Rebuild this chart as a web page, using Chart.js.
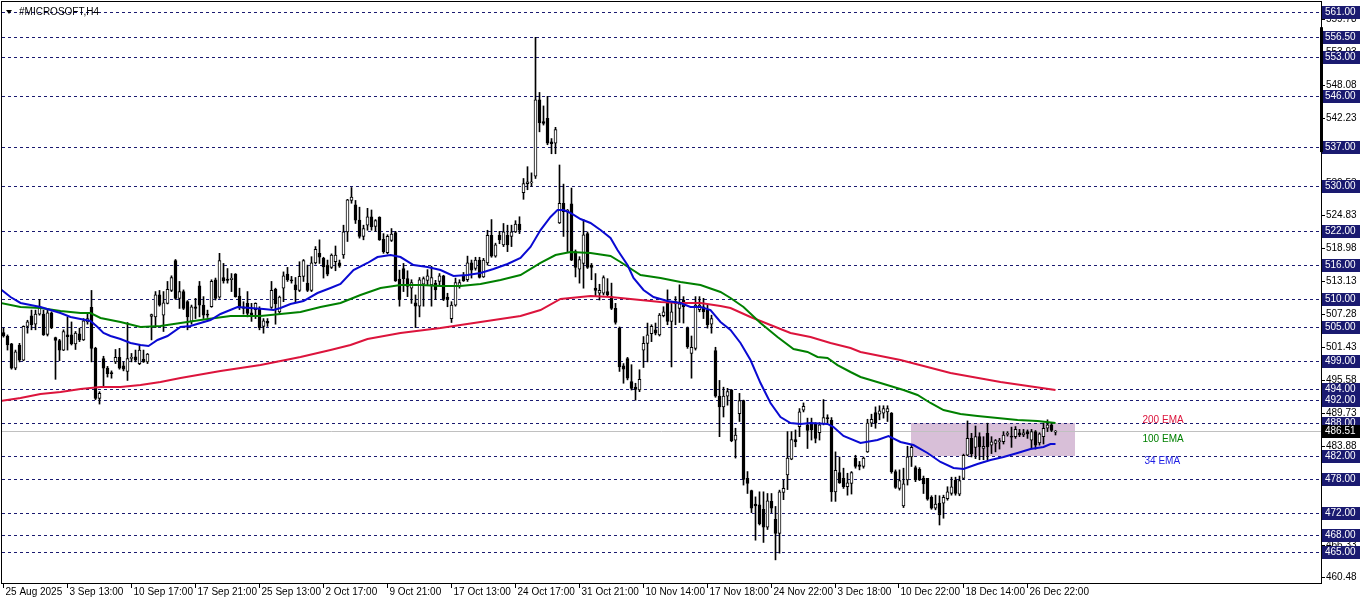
<!DOCTYPE html>
<html>
<head>
<meta charset="utf-8">
<title>#MICROSOFT,H4</title>
<script src="https://cdn.jsdelivr.net/npm/chart.js@4.4.1/dist/chart.umd.min.js"></script>
<style>
  html, body { margin: 0; padding: 0; background: #fff; }
  canvas { display: block; }
</style>
</head>
<body>
<canvas id="chart" width="1362" height="603"></canvas>
<script>
// H4 candles, one per bar index (0 = 25 Aug 2025)
const opens = [
  504.0,503.4,502.0,497.7,501.8,499.1,505.1,507.0,505.5,507.3,
  507.3,503.7,507.5,503.1,502.6,500.9,503.6,503.6,502.0,503.8,
  502.7,505.9,508.5,501.2,492.3,499.4,497.7,496.9,498.8,499.6,
  498.1,497.1,499.4,499.7,498.5,499.3,498.8,506.9,506.8,510.7,
  507.1,509.2,511.5,516.8,510.1,511.3,509.5,506.0,508.6,512.3,
  508.9,507.3,508.6,513.4,510.3,513.8,513.5,513.4,514.4,510.5,
  508.6,509.2,507.5,508.1,508.3,505.1,506.0,508.5,511.7,507.7,
  511.9,514.4,513.4,512.5,511.5,514.0,512.8,511.5,516.4,518.1,
  517.2,516.0,515.6,516.6,516.4,517.8,521.9,527.5,526.7,524.0,
  521.1,523.1,524.6,522.9,524.5,520.6,518.2,520.4,521.8,513.5,
  515.4,513.6,511.9,509.3,508.7,512.6,513.3,512.5,512.8,513.1,
  514.1,510.3,506.5,508.9,512.2,514.1,513.4,516.4,515.4,516.9,
  513.9,516.4,521.3,517.6,521.3,519.6,521.3,521.1,521.9,523.3,
  528.9,530.5,530.6,531.8,545.4,541.5,542.1,537.9,537.7,523.5,
  527.0,525.5,526.9,518.4,515.3,516.3,521.6,516.0,511.9,511.0,
  511.0,511.3,510.4,508.3,504.8,498.1,499.4,495.3,494.3,493.8,
  500.9,502.1,503.8,504.5,503.6,507.0,509.2,506.0,509.1,508.3,
  509.8,504.8,500.3,501.2,508.1,508.6,508.0,505.5,500.8,492.7,
  490.8,492.7,493.8,484.9,489.6,491.9,478.1,475.9,473.5,473.4,
  472.6,469.4,474.0,470.8,468.3,475.6,478.7,481.5,485.0,487.3,
  490.2,487.6,487.9,487.8,486.2,487.8,488.9,488.4,475.7,479.1,
  478.1,476.6,477.2,481.7,480.5,480.2,482.8,487.9,489.8,489.5,
  489.7,489.9,489.7,479.3,476.3,473.2,477.8,481.9,480.0,479.7,
  478.1,478.1,474.7,472.8,473.7,473.7,474.5,475.4,477.8,475.3,
  478.1,482.2,485.2,483.6,485.5,483.4,486.1,484.0,484.3,484.6,
  484.6,485.9,485.6,485.5,486.2,485.8,486.4,484.9,486.4,484.4,
  485.5,487.0,487.6,486.3
];
const highs = [
  504.8,503.6,502.1,500.9,502.1,505.2,506.2,508.0,508.0,509.9,
  508.0,508.0,507.7,503.2,502.8,504.5,506.8,505.9,504.2,504.8,
  506.5,507.5,511.5,501.4,493.5,499.8,498.0,497.2,501.0,501.2,
  498.8,505.8,500.3,500.9,501.8,500.9,500.3,507.3,511.3,511.5,
  511.3,513.1,514.1,517.0,513.1,511.6,509.7,508.9,510.1,513.1,
  510.4,508.0,513.4,513.7,518.1,516.3,515.4,514.5,514.5,511.9,
  509.5,511.3,509.2,509.3,508.6,506.5,506.5,513.1,511.9,510.5,
  514.8,515.6,514.0,513.8,516.6,517.0,516.0,517.5,519.3,520.5,
  517.4,516.9,518.0,519.4,516.9,523.1,527.7,529.8,527.5,526.3,
  523.1,526.1,525.8,524.1,524.6,521.6,521.4,522.5,522.0,515.1,
  516.3,515.0,513.4,510.7,513.8,513.9,515.2,515.8,513.3,514.5,
  514.2,511.0,509.5,513.7,513.4,514.7,517.6,516.9,517.4,517.4,
  517.2,522.2,524.1,519.9,522.0,523.4,523.1,523.1,523.9,524.6,
  531.4,533.5,532.4,556.5,546.7,544.3,546.0,538.5,540.5,533.8,
  530.4,525.9,529.7,518.7,517.5,524.1,521.9,516.3,514.5,512.6,
  514.1,513.6,512.8,509.2,505.0,498.5,499.6,498.3,495.0,497.4,
  503.3,505.7,505.4,505.7,507.4,508.6,511.6,509.5,510.4,512.5,
  510.4,505.0,503.4,510.4,510.4,510.1,508.9,507.1,501.4,495.5,
  494.3,494.1,493.9,487.0,493.2,492.0,479.3,476.0,474.8,475.7,
  475.7,475.4,475.4,473.1,476.0,477.8,486.4,486.4,486.7,490.5,
  491.5,488.8,488.8,488.0,488.0,492.1,489.4,488.9,482.8,481.9,
  479.9,479.0,479.3,482.2,481.1,481.9,488.6,489.5,490.8,491.0,
  491.0,491.0,489.8,479.6,479.6,479.9,483.8,484.0,480.3,480.0,
  478.5,478.1,475.0,475.1,475.0,475.1,476.6,478.3,478.3,478.5,
  482.4,488.3,486.1,487.4,486.2,485.5,487.9,485.5,485.0,485.2,
  486.4,486.4,487.2,487.3,486.8,486.8,486.7,486.8,486.6,486.2,
  487.9,488.5,487.9,486.6
];
const lows = [
  503.2,500.9,497.5,497.4,498.8,499.0,503.9,504.5,504.5,507.1,
  503.5,503.4,504.7,495.7,499.0,500.8,500.9,501.8,501.0,502.4,
  502.6,505.5,498.8,492.1,491.3,494.4,496.1,495.9,498.5,497.5,
  497.2,495.5,498.8,498.8,498.3,498.7,498.5,502.7,504.9,508.7,
  504.2,509.1,511.3,509.9,508.3,508.1,504.5,505.5,506.5,506.8,
  506.5,506.7,508.5,509.8,510.1,512.8,512.8,511.3,510.3,508.1,
  507.3,506.8,506.0,506.5,504.5,503.9,505.1,508.3,505.5,507.4,
  509.5,513.1,512.8,509.5,511.3,513.1,511.3,511.3,516.2,516.3,
  513.7,514.1,515.4,515.0,515.6,517.2,520.2,527.0,523.4,520.8,
  520.5,522.2,522.2,522.0,520.4,518.1,518.0,520.2,513.1,508.7,
  511.3,510.4,509.2,504.9,506.8,508.7,512.5,508.7,509.9,512.5,
  509.7,508.6,505.8,508.7,511.9,513.1,513.1,513.7,515.1,513.7,
  513.8,516.0,517.4,517.4,519.8,519.3,518.4,519.3,521.8,521.6,
  527.7,529.4,530.0,531.4,539.7,540.9,537.4,535.8,535.8,523.4,
  521.1,518.4,516.8,513.9,512.8,511.9,515.4,513.4,510.4,509.8,
  510.7,510.4,508.1,505.5,497.1,495.0,495.6,493.8,492.0,493.5,
  497.8,498.8,502.4,503.6,503.4,506.8,505.4,497.9,505.4,505.8,
  505.7,501.2,495.9,500.9,507.7,506.5,504.8,503.9,492.5,485.5,
  489.0,491.1,484.6,481.7,488.2,476.9,475.4,472.0,467.1,469.8,
  466.7,469.0,472.0,463.6,464.8,474.3,476.1,481.4,483.7,485.5,
  489.9,483.4,484.9,484.4,484.9,487.6,487.9,474.0,474.0,477.2,
  476.3,475.1,475.3,479.9,479.6,479.9,482.7,487.3,487.0,488.5,
  488.8,488.2,479.0,476.3,476.0,472.9,476.9,480.2,477.5,477.7,
  475.4,474.2,472.6,472.5,469.8,471.0,474.2,475.1,475.1,475.0,
  477.9,482.1,481.9,481.6,481.4,481.4,481.4,482.5,482.8,483.3,
  484.2,485.6,483.6,485.2,485.5,485.5,485.2,483.4,483.3,484.0,
  484.2,486.4,486.4,485.8
];
const closes = [
  503.4,501.8,497.7,500.6,499.1,505.1,505.9,505.4,507.3,508.7,
  503.6,507.5,504.9,502.6,500.9,504.2,503.3,502.0,503.9,502.7,
  506.1,506.5,501.2,492.3,493.2,497.7,496.7,496.7,499.6,497.7,
  497.5,499.4,499.6,499.1,500.9,498.8,500.2,507.2,510.7,508.9,
  509.3,511.7,513.8,510.1,511.3,508.3,506.8,508.6,508.3,508.9,
  507.1,507.1,513.1,510.1,516.8,513.2,513.3,513.7,510.4,508.5,
  508.3,507.4,507.1,509.2,504.9,506.1,505.7,511.5,509.1,510.3,
  514.1,513.4,513.2,511.6,514.0,516.8,511.5,516.4,518.8,517.4,
  515.7,514.4,517.8,517.8,515.8,521.9,527.6,528.1,524.0,521.1,
  522.5,524.6,522.8,523.9,520.5,518.4,521.1,521.5,513.2,509.9,
  513.6,512.2,512.9,508.7,513.4,513.6,514.1,513.8,511.6,514.1,
  509.9,509.9,508.9,512.9,512.9,513.2,516.4,515.1,516.9,513.8,
  516.9,521.3,517.6,519.6,520.5,521.9,519.6,521.9,523.3,522.2,
  530.5,530.8,530.8,545.4,541.3,541.2,537.7,537.6,540.1,527.0,
  525.5,525.8,516.9,515.6,517.0,521.4,515.6,515.6,511.5,511.5,
  513.8,510.7,508.3,505.8,497.9,497.5,495.9,494.1,493.9,495.7,
  502.1,503.6,505.1,503.9,507.1,507.7,506.0,507.7,509.5,509.1,
  508.6,501.5,501.4,508.9,508.9,507.7,505.4,506.5,492.7,490.8,
  492.7,493.5,484.8,485.8,491.9,477.9,477.2,472.8,473.2,470.0,
  469.4,474.1,472.8,468.3,475.7,476.3,481.7,485.0,484.6,489.9,
  490.9,486.6,486.7,485.2,487.6,488.9,488.7,475.7,479.5,477.3,
  476.6,477.3,479.1,480.2,480.2,481.7,487.9,488.6,487.9,490.1,
  490.5,490.5,479.3,476.5,477.7,477.1,481.9,483.6,477.8,477.8,
  477.1,474.4,472.8,473.5,471.6,474.7,475.7,476.6,475.4,477.7,
  482.2,485.2,482.5,485.5,483.7,483.8,483.7,484.6,484.8,484.8,
  485.8,486.1,485.4,486.8,485.8,486.2,486.0,486.4,484.0,486.0,
  487.0,487.6,486.6,486.5
];

// moving averages: [bar index, price]
const ema34 = [[-0.75,511.76],[1.75,510.33],[4.25,509.27],[6.75,508.91],[9.25,508.56],[11.75,508.02],[14.25,507.49],[16.75,506.78],[19.25,506.42],[21.75,506.07],[23.5,505.0],[25,503.93],[26.75,503.4],[29.25,502.87],[31.75,502.16],[34.25,501.8],[36.25,501.62],[38.5,502.69],[41,503.4],[44.25,505.0],[46.75,505.18],[51.75,506.24],[54.25,507.31],[58.5,508.56],[61.75,508.38],[65,508.2],[67.5,508.02],[69.25,508.38],[71.75,509.09],[75,509.62],[78.5,511.04],[81.75,511.93],[84.25,512.64],[87.5,515.13],[91,516.38],[93.5,517.44],[96.75,517.8],[99.25,517.44],[102.5,516.02],[106,515.67],[109.25,515.13],[112.5,514.07],[116,514.24],[119.25,514.6],[122.5,515.31],[126,516.2],[129.25,517.27],[131.75,519.22],[134.25,522.24],[136.75,524.56],[138.5,525.8],[140,525.8],[141.75,525.27],[144.25,524.2],[146.75,523.49],[149.25,522.24],[151.75,520.82],[153.5,518.69],[156,516.02],[157.5,513.71],[160,511.58],[162.5,510.33],[166,509.62],[169.25,509.27],[171.75,508.56],[174.25,508.56],[176.75,508.02],[179.25,505.89],[181.75,504.47],[184.25,502.16],[186.75,499.13],[189.25,495.04],[191.75,491.49],[194.25,489.0],[196.75,487.93],[199.25,487.76],[201.75,487.93],[206,487.76],[207.5,487.22],[210,485.62],[214.25,484.38],[218.5,484.91],[221.25,485.62],[224.25,484.56],[227.5,484.02],[231,482.6],[234.25,481.0],[237.5,479.93],[240,479.76],[243.5,480.64],[246.75,481.36],[250,481.89],[253.5,482.6],[256.75,483.31],[260,483.67],[261.75,484.2],[263,484.2]];
const ema100 = [[-0.75,509.27],[4.25,508.56],[9.25,508.38],[14.25,507.84],[19.25,507.49],[21.75,507.49],[24.25,506.6],[29.25,505.89],[34.25,505.0],[39.25,505.18],[44.25,505.71],[49.25,506.24],[56.75,506.96],[64.25,506.96],[69.25,507.31],[74.25,507.67],[79.25,508.56],[84.25,509.27],[89.25,510.69],[94.25,511.93],[99.25,512.47],[104.25,512.47],[109.25,512.29],[114.25,512.29],[119.25,512.64],[124.25,513.36],[129.25,514.24],[134.25,516.38],[138,517.8],[141.75,518.33],[146.75,518.16],[151.75,517.62],[154.25,516.56],[159.25,514.24],[164.25,513.71],[169.25,513.0],[174.25,512.47],[179.25,511.22],[181.75,510.16],[185,508.56],[189.25,505.71],[193.5,503.22],[197.5,501.09],[201,500.56],[203.5,499.67],[206,499.49],[208.5,498.24],[211.75,497.0],[214.25,496.11],[219.25,495.04],[225,493.8],[228.5,492.91],[231.75,491.49],[235,490.24],[239.25,489.53],[243.5,489.18],[248.5,488.82],[253.5,488.47],[258.5,488.29],[263,487.93]];
const ema200 = [[-0.75,491.84],[4.25,492.38],[9.25,493.09],[14.25,493.44],[19.25,493.98],[24.25,494.33],[29.25,494.33],[34.25,494.69],[39.25,495.22],[44.25,495.93],[54.25,497.18],[64.25,498.24],[74.25,499.67],[81.75,500.91],[86.75,501.8],[91,502.87],[99.25,503.93],[109.25,504.82],[119.25,505.89],[129.25,506.96],[134.25,508.02],[139.25,509.98],[146.75,510.51],[151.75,510.33],[159.25,509.8],[164.25,509.44],[169.25,509.27],[174.25,509.27],[179.25,508.73],[181.75,508.38],[186.75,506.78],[191.75,505.36],[196.75,503.93],[201.75,503.22],[206.75,502.16],[211.75,501.27],[214.25,500.56],[224.25,499.13],[236.75,496.82],[249.25,495.22],[263,493.8]];

// horizontal levels, price scale and time scale
const levels = [561, 556.5, 553, 546, 537, 530, 522, 516, 510, 505, 499, 494, 492, 488, 482, 478, 472, 468, 465];
const lastPrice = 486.51;
const priceTicks = [559.78, 553.93, 548.08, 542.23, 536.38, 530.53, 524.83, 518.98, 513.13, 507.28, 501.43, 495.58, 489.73, 483.88, 478.03, 472.18, 466.33, 460.48];
const timeLabels = ['25 Aug 2025', '3 Sep 13:00', '10 Sep 17:00', '17 Sep 21:00', '25 Sep 13:00', '2 Oct 17:00', '9 Oct 21:00', '17 Oct 13:00', '24 Oct 17:00', '31 Oct 21:00', '10 Nov 14:00', '17 Nov 18:00', '24 Nov 22:00', '3 Dec 18:00', '10 Dec 22:00', '18 Dec 14:00', '26 Dec 22:00'];
const timeLabelBars = [0, 16, 32, 48, 64, 80, 96, 112, 128, 144, 160, 176, 192, 208, 224, 240, 256];

// drawn objects on the chart
const zone = { from: 227, to: 268, low: 482, high: 488 };
const noteTexts = ['200 EMA', '100 EMA', '34 EMA'];
const notePrices = [488.5, 485.1, 481.2];
const noteBars = [284.75, 284.75, 285.25];
const sideBar = { top: 558.3, bottom: 536.1 };

const noteColors = ['#dc143c', '#008000', '#1e1ee6'];
const levelColor = '#1a1a70';
const FONT = '10px "Liberation Sans", Arial, sans-serif';

const bodies = opens.map((o, i) => ({ x: i, y: [o, closes[i]] }));
const bodyColors = opens.map((o, i) => (closes[i] >= o ? '#ffffff' : '#000000'));
const wicks = lows.map((l, i) => ({ x: i, y: [l, highs[i]] }));
const toXY = arr => arr.map(p => ({ x: p[0], y: p[1] }));

const overlay = {
  id: 'overlay',
  beforeDatasetsDraw(chart) {
    const { ctx, chartArea: a, scales: { x, y } } = chart;
    ctx.save();
    // rectangle zone
    const zx1 = Math.floor(x.getPixelForValue(zone.from));
    const zx2 = Math.floor(x.getPixelForValue(zone.to));
    const zy1 = Math.round(y.getPixelForValue(zone.high));
    const zy2 = Math.round(y.getPixelForValue(zone.low));
    ctx.fillStyle = '#d8bfd8';
    ctx.fillRect(zx1, zy1, zx2 - zx1, zy2 - zy1);
    // dashed levels
    ctx.strokeStyle = levelColor;
    ctx.lineWidth = 1;
    ctx.setLineDash([3, 3]);
    levels.forEach(v => {
      const py = Math.round(y.getPixelForValue(v)) + 0.5;
      ctx.beginPath();
      ctx.moveTo(a.left, py);
      ctx.lineTo(a.right, py);
      ctx.stroke();
    });
    ctx.setLineDash([]);
    // bid line
    const by = Math.round(y.getPixelForValue(lastPrice)) + 0.5;
    ctx.strokeStyle = '#c0c0c0';
    ctx.beginPath();
    ctx.moveTo(a.left, by);
    ctx.lineTo(a.right, by);
    ctx.stroke();
    ctx.restore();
  },
  afterDraw(chart) {
    const { ctx, chartArea: a, scales: { x, y } } = chart;
    ctx.save();
    ctx.font = FONT;
    ctx.textBaseline = 'middle';

    // ema notes
    noteTexts.forEach((t, i) => {
      ctx.fillStyle = noteColors[i];
      ctx.fillText(t, x.getPixelForValue(noteBars[i]), y.getPixelForValue(notePrices[i]));
    });

    // frame
    ctx.strokeStyle = '#000';
    ctx.lineWidth = 1;
    ctx.strokeRect(a.left - 0.5, a.top - 0.5, a.right - a.left + 1, a.bottom - a.top + 1);

    // price scale ticks
    ctx.fillStyle = '#000';
    priceTicks.forEach(v => {
      const py = Math.round(y.getPixelForValue(v)) + 0.5;
      ctx.beginPath();
      ctx.moveTo(a.right + 1, py);
      ctx.lineTo(a.right + 4, py);
      ctx.stroke();
      ctx.fillText(v.toFixed(2), a.right + 5, py);
    });

    // level boxes
    const box = (v, color) => {
      const py = Math.round(y.getPixelForValue(v));
      ctx.fillStyle = color;
      ctx.fillRect(a.right + 1, py - 6, 38, 13);
      ctx.fillStyle = '#fff';
      ctx.fillText(v.toFixed(2), a.right + 4, py + 0.5);
    };
    levels.forEach(v => box(v, levelColor));
    box(lastPrice, '#000');

    // thick bar on the scale edge
    const sy1 = y.getPixelForValue(sideBar.top), sy2 = y.getPixelForValue(sideBar.bottom);
    ctx.fillStyle = '#000';
    ctx.fillRect(a.right - 1, sy1, 3, sy2 - sy1);

    // time scale
    timeLabels.forEach((t, i) => {
      const px = Math.round(x.getPixelForValue(timeLabelBars[i])) - 0.5;
      ctx.beginPath();
      ctx.moveTo(px, a.bottom + 1);
      ctx.lineTo(px, a.bottom + 5);
      ctx.stroke();
      ctx.fillStyle = '#000';
      ctx.fillText(t, px + 2, a.bottom + 9);
    });

    // title
    ctx.beginPath();
    ctx.moveTo(6, 10);
    ctx.lineTo(12, 10);
    ctx.lineTo(9, 14);
    ctx.closePath();
    ctx.fill();
    ctx.fillText('#MICROSOFT,H4', 19, 12);
    ctx.restore();
  }
};

new Chart(document.getElementById('chart'), {
  type: 'bar',
  data: {
    datasets: [
      { type: 'line', label: '34 EMA', data: toXY(ema34), borderColor: '#0a0ad2', borderWidth: 2, pointRadius: 0, order: 0 },
      { type: 'line', label: '100 EMA', data: toXY(ema100), borderColor: '#008000', borderWidth: 2, pointRadius: 0, order: 1 },
      { type: 'line', label: '200 EMA', data: toXY(ema200), borderColor: '#dc143c', borderWidth: 2, pointRadius: 0, order: 2 },
      {
        label: 'bodies', data: bodies, backgroundColor: bodyColors, borderColor: '#000000',
        borderWidth: 1, borderSkipped: false, barThickness: 3, minBarLength: 1, grouped: false, order: 5
      },
      { label: 'wicks', data: wicks, backgroundColor: '#000000', barThickness: 1, grouped: false, order: 6 }
    ]
  },
  options: {
    responsive: false,
    animation: false,
    devicePixelRatio: 1,
    events: [],
    layout: { padding: { left: 2, top: 2, right: 41, bottom: 20 } },
    plugins: { legend: { display: false }, tooltip: { enabled: false } },
    scales: {
      x: { type: 'linear', min: -0.375, max: 329.375, offset: false, display: false },
      y: { type: 'linear', min: 459.4889, max: 562.7778, stacked: false, beginAtZero: false, display: false }
    }
  },
  plugins: [overlay]
});
</script>
</body>
</html>
